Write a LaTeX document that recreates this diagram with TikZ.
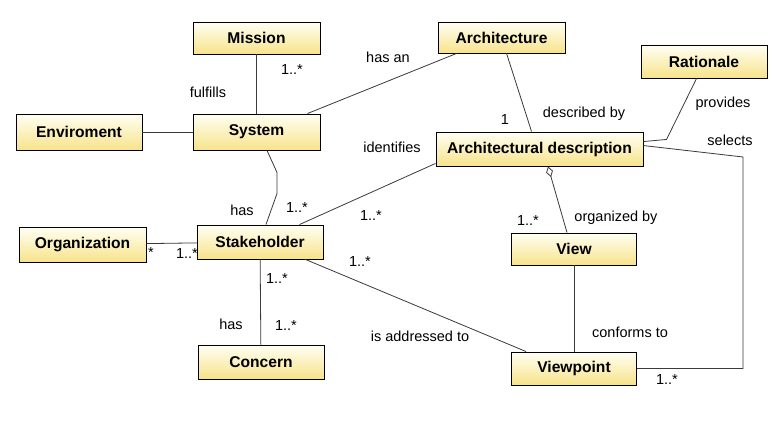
\documentclass[tikz,border=0pt]{standalone}
\usepackage{fontspec}
\setmainfont{Liberation Sans}
\usetikzlibrary{arrows.meta,calc}
\definecolor{boxtop}{HTML}{FFFFF4}
\definecolor{boxbot}{HTML}{F7E38A}
\definecolor{edgec}{HTML}{3A3A3A}
\begin{document}
\begin{tikzpicture}[x=1pt,y=-1pt,
  cls/.style={draw=black, line width=0.9pt, top color=boxtop, bottom color=boxbot,
    font=\fontsize{15.6}{18}\selectfont\bfseries, inner sep=0pt, minimum height=34pt},
  lbl/.style={font=\fontsize{14.5}{16}\selectfont, inner sep=0pt},
  conn/.style={draw=edgec, line width=0.8pt}]
\useasboundingbox (0,0) rectangle (772,425);
\fill[white] (0,0) rectangle (772,425);

% classes
\node[cls, minimum width=127pt, minimum height=32pt] (mission) at (256.5,38) {Mission};
\node[cls, minimum width=127pt, minimum height=31pt] (arch) at (501.5,37.5) {Architecture};
\node[cls, minimum width=126pt, minimum height=33pt] (rat) at (704,61.5) {Rationale};
\node[cls, minimum width=126pt, minimum height=36pt] (env) at (79,132) {Enviroment};
\node[cls, minimum width=127pt, minimum height=36pt] (sys) at (256.5,132) {System};
\node[cls, minimum width=207pt, minimum height=34pt] (ad) at (539.5,149) {Architectural description};
\node[cls, minimum width=127pt, minimum height=35pt] (org) at (82.5,244.5) {Organization};
\node[cls, minimum width=126pt, minimum height=34pt] (stk) at (260,242) {Stakeholder};
\node[cls, minimum width=125pt, minimum height=32pt] (view) at (574,249) {View};
\node[cls, minimum width=126pt, minimum height=34pt] (con) at (261,362) {Concern};
\node[cls, minimum width=125pt, minimum height=33pt] (vp) at (574,368.5) {Viewpoint};

% connectors
\draw[conn] (mission) -- (sys);
\draw[conn] (env) -- (sys);
\draw[conn] ([xshift=-13pt]sys.north east) -- ([xshift=19pt]arch.south west);
\draw[conn] ([xshift=69pt]arch.south west) -- ([xshift=96pt]ad.north west);
\draw[conn] ([xshift=56pt]rat.south west) -- ++(-30,61) -- ([yshift=-10pt]ad.north east);
\draw[conn] ([yshift=-14pt]ad.north east) -- (743,157) -- (743,368.5) -- (vp.east);
\draw[conn, {Diamond[open,length=11pt,width=7pt]}-] ([xshift=8.5pt]ad.south) -- ([xshift=-7pt]view.north);
\draw[conn] (view) -- (vp);
\draw[conn] ([xshift=10.5pt]sys.south) -- ++(10,22) -- ++(0,21) -- ([xshift=6pt]stk.north);
\draw[conn] ([xshift=-24pt]stk.north east) -- ([yshift=3pt]ad.south west);
\draw[conn] (org) -- (stk);
\draw[conn] (stk) -- (con);
\draw[conn] ([xshift=-18pt]stk.south east) -- ([xshift=15pt]vp.north west);

% labels
\node[lbl] (l1) at (208,92) {fulfills};
\node[lbl] (l2) at (292,70) {1..*};
\node[lbl] (l3) at (388,57) {has an};
\node[lbl] (l4) at (505,120) {1};
\node[lbl] (l5) at (584,114) {described by};
\node[lbl] (l6) at (392,147) {identifies};
\node[lbl] (l7) at (723,104) {provides};
\node[lbl] (l8) at (730,140) {selects};
\node[lbl] (l9) at (242,210) {has};
\node[lbl] (l10) at (297,208) {1..*};
\node[lbl] (l11) at (371,216) {1..*};
\node[lbl] (l12) at (528,221) {1..*};
\node[lbl] (l13) at (616,218) {organized by};
\node[lbl] (l14) at (151,253) {*};
\node[lbl] (l15) at (187,254) {1..*};
\node[lbl] (l16) at (360,262) {1..*};
\node[lbl] (l17) at (277,279) {1..*};
\node[lbl] (l18) at (231,324) {has};
\node[lbl] (l19) at (286,326) {1..*};
\node[lbl] (l20) at (420,336) {is addressed to};
\node[lbl] (l21) at (630,332) {conforms to};
\node[lbl] (l22) at (667,380) {1..*};
\end{tikzpicture}
\end{document}
